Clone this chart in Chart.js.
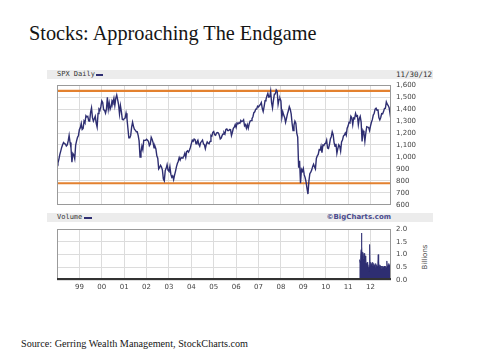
<!DOCTYPE html>
<html><head><meta charset="utf-8">
<script src="https://cdn.jsdelivr.net/npm/chart.js@4"></script>
<style>
html,body{margin:0;padding:0;background:#fff;width:480px;height:360px;overflow:hidden;}
#title{position:absolute;left:29px;top:21px;font-family:"Liberation Serif",serif;font-size:20.3px;color:#151515;white-space:nowrap;line-height:24px;}
#source{position:absolute;left:21px;top:338px;font-family:"Liberation Serif",serif;font-size:10.2px;color:#151515;white-space:nowrap;line-height:12px;}
.band{position:absolute;left:47px;width:386px;height:9px;background:#ececec;}
.mono{position:absolute;font-family:"DejaVu Sans Mono",monospace;font-size:7px;color:#333;line-height:9px;white-space:nowrap;}
.dash{position:absolute;height:2px;background:#2e2e72;}
#bc{position:absolute;font-family:"DejaVu Sans",sans-serif;font-weight:bold;font-size:7px;color:#4a4a8c;line-height:9px;white-space:nowrap;}
#bil{position:absolute;left:425px;top:257px;transform:translate(-50%,-50%) rotate(-90deg);font-family:"DejaVu Sans",sans-serif;font-size:7px;color:#444;white-space:nowrap;}
canvas{position:absolute;}
</style>
</head><body>
<div id="title">Stocks: Approaching The Endgame</div>
<div class="band" style="top:70px;"></div>
<div class="mono" style="left:57px;top:70px;">SPX Daily</div>
<div class="dash" style="left:96px;top:74px;width:7px;"></div>
<div class="mono" style="left:396px;top:70px;font-size:7.5px;">11/30/12</div>
<div class="band" style="top:213px;"></div>
<div class="mono" style="left:57px;top:213px;">Volume</div>
<div class="dash" style="left:84px;top:217px;width:8px;"></div>
<div id="bc" style="right:89px;top:213px;">©BigCharts.com</div>
<div id="bil">Billions</div>
<canvas id="top" width="400" height="138" style="left:50px;top:76px;width:400px;height:138px;"></canvas>
<canvas id="vol" width="400" height="74" style="left:50px;top:220px;width:400px;height:74px;"></canvas>
<div id="source">Source: Gerring Wealth Management, StockCharts.com</div>
<script>
// S&P 500 (SPX) values, two readings per month (mid-month, month-end)
const spx1998 = [950,980, 1020,1049, 1080,1102, 1120,1112, 1108,1091, 1100,1134, 1180,1121, 1075,957, 1030,1017, 985,1099, 1135,1164, 1180,1229];
const spx1999 = [1245,1280, 1230,1238, 1300,1286, 1345,1335, 1340,1302, 1300,1373, 1410,1329, 1300,1320, 1340,1283, 1250,1363, 1400,1389, 1420,1469];
const spx2000 = [1455,1394, 1390,1366, 1400,1499, 1400,1452, 1400,1421, 1470,1455, 1490,1431, 1490,1518, 1480,1437, 1360,1429, 1380,1315, 1310,1320];
const spx2001 = [1325,1366, 1320,1240, 1160,1160, 1180,1249, 1290,1256, 1230,1224, 1210,1211, 1180,1134, 1000,1041, 1090,1060, 1140,1139, 1140,1148];
const spx2002 = [1140,1130, 1095,1107, 1165,1147, 1120,1077, 1090,1067, 1010,990, 900,912, 930,916, 890,815, 800,886, 905,936, 890,880];
const spx2003 = [920,856, 830,841, 810,848, 880,917, 945,964, 995,975, 995,990, 995,1008, 1030,996, 1045,1051, 1040,1058, 1080,1112];
const spx2004 = [1140,1131, 1150,1145, 1110,1126, 1140,1107, 1090,1121, 1130,1141, 1110,1102, 1070,1104, 1125,1115, 1110,1130, 1180,1174, 1205,1212];
const spx2005 = [1185,1181, 1200,1204, 1200,1181, 1150,1157, 1180,1192, 1205,1191, 1230,1234, 1220,1220, 1230,1229, 1180,1207, 1240,1249, 1270,1248];
const spx2006 = [1285,1280, 1285,1281, 1305,1295, 1300,1311, 1260,1270, 1240,1270, 1240,1277, 1300,1304, 1320,1336, 1370,1378, 1400,1401, 1425,1418];
const spx2007 = [1430,1438, 1455,1407, 1380,1421, 1470,1482, 1510,1531, 1500,1503, 1550,1455, 1410,1474, 1525,1527, 1560,1549, 1440,1481, 1490,1468];
const spx2008 = [1330,1378, 1350,1331, 1290,1323, 1360,1386, 1420,1400, 1360,1280, 1220,1267, 1300,1283, 1200,1166, 910,969, 780,896, 880,903];
const spx2009 = [850,826, 790,735, 690,798, 860,873, 890,919, 940,919, 900,987, 1010,1021, 1060,1057, 1090,1036, 1100,1096, 1110,1115];
const spx2010 = [1140,1074, 1070,1104, 1150,1169, 1210,1187, 1120,1089, 1110,1031, 1070,1102, 1090,1049, 1125,1141, 1175,1183, 1200,1181, 1240,1258];
const spx2011 = [1290,1286, 1340,1327, 1270,1326, 1320,1364, 1340,1345, 1270,1321, 1340,1292, 1130,1219, 1200,1131, 1200,1253, 1250,1247, 1220,1258];
const spx2012 = [1290,1312, 1350,1366, 1400,1408, 1390,1398, 1330,1310, 1330,1362, 1360,1379, 1405,1407, 1460,1441, 1430,1412, 1360,1416];
const spxYears = [1998,1999,2000,2001,2002,2003,2004,2005,2006,2007,2008,2009,2010,2011,2012];
const spxByYear = [spx1998,spx1999,spx2000,spx2001,spx2002,spx2003,spx2004,spx2005,spx2006,spx2007,spx2008,spx2009,spx2010,spx2011,spx2012];
const spxFirst = 970;          // value at 1 Jan 1998
// horizontal reference levels (orange)
const resistanceLevel = [1553];
const supportLevel = [780];
// weekly volume (billions), from mid 2011
const volumeStartYear = 2011.5;
const volumeWeekly = [0.70,0.80,0.75,0.90,1.20,1.85,1.30,1.00,1.10,0.85,0.95,1.05,0.80,0.75,0.95,0.70,0.65,0.60,0.70,0.55,0.65,0.50,0.35,0.60,1.40,0.65,0.55,0.70,0.60,0.65,0.55,0.70,0.60,0.50,0.65,0.55,0.60,0.50,0.65,0.55,0.60,0.50,0.55,0.65,1.00,0.60,0.55,0.50,0.60,0.55,0.50,0.45,0.55,0.50,0.45,0.55,0.50,0.40,0.55,0.45,0.50,0.55,0.45,0.50,0.75,0.55,0.50,0.60,0.55,0.65,0.55,0.60,0.50];
// axis ticks
const priceTicks = [600,700,800,900,1000,1100,1200,1300,1400,1500,1600];
const volumeTicks = [0.0,0.5,1.0,1.5,2.0];
const yearLabels = ['99','00','01','02','03','04','05','06','07','08','09','10','11','12'];
const firstLabelYear = 1999;
const xMin = 1998, xMax = 2012 + 11/12;

// build points
const spxPoints = [{x:1998, y:spxFirst}];
spxByYear.forEach((arr, yi) => {
  arr.forEach((v, i) => {
    const m = Math.floor(i/2);
    const t = spxYears[yi] + (i % 2 === 0 ? (m + 0.5)/12 : (m + 1)/12);
    spxPoints.push({x:t, y:v});
  });
});
const volPoints = volumeWeekly.map((v, i) => ({x: volumeStartYear + i/52, y: v}));

const navy = '#2e2e72';
const orange = '#e3812f';
const gridC = '#dcdcdc';
const tickFont = {family:'DejaVu Sans', size:7};

const frame = {
  id:'frame',
  afterDatasetsDraw(chart, args, opts){
    const a = chart.chartArea, c = chart.ctx;
    c.save();
    c.strokeStyle = opts.color || '#999';
    c.lineWidth = 1;
    c.strokeRect(Math.round(a.left)+0.5, Math.round(a.top)+0.5, Math.round(a.right-a.left)-1, Math.round(a.bottom-a.top)-1);
    if (opts.bottomColor){
      c.strokeStyle = opts.bottomColor; c.lineWidth = 2;
      c.beginPath(); c.moveTo(a.left, a.bottom-1); c.lineTo(a.right, a.bottom-1); c.stroke();
    }
    c.restore();
  }
};

new Chart(document.getElementById('top'), {
  type:'line',
  data:{datasets:[
    {data:spxPoints, borderColor:navy, borderWidth:1.4, pointRadius:0, tension:0, order:0},
    {data:[{x:xMin,y:resistanceLevel[0]},{x:xMax,y:resistanceLevel[0]}], borderColor:orange, borderWidth:2.2, pointRadius:0, order:1},
    {data:[{x:xMin,y:supportLevel[0]},{x:xMax,y:supportLevel[0]}], borderColor:orange, borderWidth:2.2, pointRadius:0, order:1}
  ]},
  options:{
    animation:false, responsive:false, devicePixelRatio:1,
    layout:{padding:{left:7, top:7, bottom:7, right:0}},
    plugins:{legend:{display:false}, tooltip:{enabled:false}, frame:{color:'#9a9a9a'}},
    scales:{
      x:{type:'linear', min:xMin, max:xMax,
         ticks:{display:false, stepSize:1, includeBounds:false},
         grid:{color:gridC, drawTicks:false}, border:{display:false},
         afterFit(s){ s.height = 0; }},
      y:{position:'right', min:priceTicks[0], max:priceTicks[priceTicks.length-1],
         afterBuildTicks(s){ s.ticks = priceTicks.map(v=>({value:v})); },
         ticks:{font:tickFont, color:'#444', padding:5, callback:v=>v.toLocaleString('en-US')},
         grid:{color:gridC, drawTicks:false}, border:{display:false},
         afterFit(s){ s.width = 59; }}
    }
  },
  plugins:[frame]
});

new Chart(document.getElementById('vol'), {
  type:'line',
  data:{datasets:[
    {data:volPoints, borderColor:navy, backgroundColor:navy, borderWidth:0.8, pointRadius:0, tension:0, fill:'origin'}
  ]},
  options:{
    animation:false, responsive:false, devicePixelRatio:1,
    layout:{padding:{left:7, top:7, bottom:0, right:0}},
    plugins:{legend:{display:false}, tooltip:{enabled:false}, frame:{color:'#9a9a9a', bottomColor:'#333'}},
    scales:{
      x:{type:'linear', min:xMin, max:xMax,
         afterBuildTicks(s){ const t=[]; for(let y=xMin+1; y<=xMax; y++) t.push({value:y}); s.ticks=t; },
         ticks:{font:tickFont, color:'#444', padding:3, autoSkip:false, maxRotation:0,
                callback:v=>{ const i = Math.round(v) - firstLabelYear; return yearLabels[i] ?? ''; }},
         grid:{color:gridC, drawTicks:false}, border:{display:false},
         afterFit(s){ s.height = 14; }},
      y:{position:'right', min:volumeTicks[0], max:volumeTicks[volumeTicks.length-1],
         afterBuildTicks(s){ s.ticks = volumeTicks.map(v=>({value:v})); },
         ticks:{font:tickFont, color:'#444', padding:5, callback:v=>v.toFixed(1)},
         grid:{color:gridC, drawTicks:false}, border:{display:false},
         afterFit(s){ s.width = 59; }}
    }
  },
  plugins:[frame]
});
</script>
</body></html>
